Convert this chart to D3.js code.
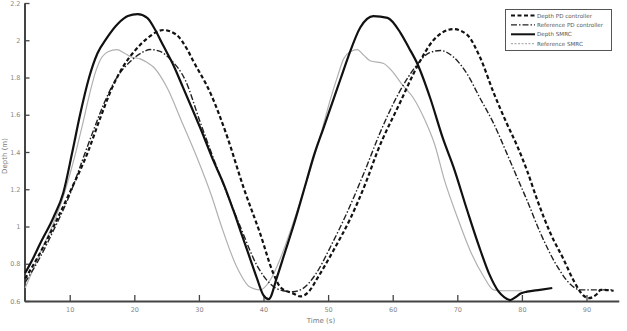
<!DOCTYPE html>
<html>
<head>
<meta charset="utf-8">
<script src="https://cdn.jsdelivr.net/npm/d3@7"></script>
<style>
  body { margin: 0; background: #fff; }
  svg { display: block; }
  text { font-family: "DejaVu Sans", Verdana, sans-serif; }
</style>
</head>
<body>
<div id="chart"></div>
<script>
// series: time (s) and depth (m)
var depthPDTime = [3.1, 5.45, 7.5, 10.1, 12.7, 14.7, 16.5, 18.3, 20, 22, 24.5, 26.5, 28.2, 29.1, 31.8, 34.4, 36.9, 39.5, 41.5, 42.6, 44.6, 45.7, 47, 48.3, 50.8, 53.4, 56, 57.6, 61.2, 63.8, 66.3, 69.4, 71.5, 73.5, 75.6, 77.7, 79.3, 80.8, 82.4, 84.4, 86.5, 88, 89.5, 90.3, 91.7, 92.2, 94.2];
var depthPDValue = [0.72, 0.86, 1.0, 1.19, 1.39, 1.58, 1.74, 1.86, 1.94, 2.01, 2.055, 2.03, 1.95, 1.89, 1.715, 1.48, 1.21, 0.96, 0.75, 0.675, 0.64, 0.625, 0.65, 0.72, 0.87, 1.04, 1.25, 1.4, 1.67, 1.86, 2.0, 2.06, 2.03, 1.91, 1.72, 1.55, 1.43, 1.30, 1.14, 0.965, 0.82, 0.71, 0.63, 0.615, 0.64, 0.66, 0.655];

var refPDTime = [3.1, 5.5, 7.5, 10, 11.8, 13.5, 15.3, 17.3, 19.5, 21, 22.5, 24, 25.5, 27.9, 30.2, 33.3, 36.4, 39, 41.1, 43, 44.5, 46, 48, 50.5, 53, 55.7, 58, 61, 63.8, 65.5, 67.4, 69.4, 71.5, 73.5, 75.6, 77.7, 79.3, 80.8, 82.8, 85.4, 87.5, 89, 94.2];
var refPDValue = [0.70, 0.84, 0.98, 1.17, 1.34, 1.5, 1.66, 1.80, 1.89, 1.93, 1.95, 1.94, 1.90, 1.785, 1.56, 1.27, 1.0, 0.79, 0.69, 0.655, 0.65, 0.665, 0.74, 0.9, 1.08, 1.3, 1.5, 1.72, 1.87, 1.93, 1.945, 1.91, 1.82, 1.69, 1.555, 1.39, 1.26, 1.14, 0.97, 0.79, 0.69, 0.66, 0.66];

var depthSMRCTime = [3.1, 4.2, 5.45, 7.5, 9.0, 10.4, 11.6, 13.0, 14.3, 15.7, 17.5, 19.0, 20.5, 22.0, 23.0, 24.5, 26.0, 27.5, 29.1, 30.2, 32.2, 33.8, 35.3, 36.7, 38.0, 39.0, 40.0, 40.8, 42.1, 43.3, 44.6, 46.7, 47.7, 49.3, 50.8, 52.0, 53.1, 55.0, 57.0, 59.2, 61.2, 62.5, 63.8, 65.8, 67.8, 69.4, 71.5, 73.3, 75.0, 76.4, 77.3, 78.2, 79.0, 79.8, 80.8, 82.8, 84.7];
var depthSMRCValue = [0.75, 0.82, 0.91, 1.05, 1.18, 1.40, 1.60, 1.80, 1.93, 2.01, 2.09, 2.13, 2.14, 2.12, 2.07, 1.97, 1.87, 1.75, 1.62, 1.53, 1.356, 1.23, 1.09, 0.95, 0.82, 0.72, 0.63, 0.61, 0.73, 0.86, 1.0, 1.25, 1.37, 1.53, 1.68, 1.80, 1.91, 2.07, 2.13, 2.12, 2.04, 1.96, 1.875, 1.69, 1.47, 1.32, 1.09, 0.90, 0.74, 0.65, 0.62, 0.605, 0.62, 0.64, 0.65, 0.66, 0.67];

var refSMRCTime = [3.1, 5.45, 7.5, 9.0, 10.5, 12.0, 13.0, 14.0, 15.0, 16.0, 17.3, 18.5, 19.5, 20.9, 22.0, 23.0, 25.0, 27.5, 29.7, 32.0, 33.5, 35.9, 37.9, 39.5, 41.0, 42.5, 44.2, 46.5, 48.5, 50.5, 51.5, 52.4, 53.5, 54.5, 55.5, 56.5, 58.6, 60.0, 61.5, 63.2, 65.0, 66.5, 68.0, 70.0, 72.0, 74.1, 75.6, 77.0, 80.0];
var refSMRCValue = [0.67, 0.86, 1.02, 1.16, 1.34, 1.55, 1.70, 1.83, 1.91, 1.94, 1.95, 1.93, 1.91, 1.90, 1.88, 1.855, 1.75, 1.55, 1.37, 1.16, 1.0, 0.78, 0.675, 0.66, 0.71, 0.82, 0.98, 1.22, 1.45, 1.70, 1.81, 1.90, 1.94, 1.95, 1.92, 1.89, 1.875, 1.83, 1.76, 1.69, 1.57, 1.44, 1.25, 1.05, 0.87, 0.73, 0.66, 0.655, 0.655];

var legendNames = ["Depth PD controller", "Reference PD controller", "Depth SMRC", "Reference SMRC"];
var xTicks = [10, 20, 30, 40, 50, 60, 70, 80, 90];
var yTicks = [0.6, 0.8, 1, 1.2, 1.4, 1.6, 1.8, 2, 2.2];

var w = 627;
var h = 331;

var svg = d3.select("#chart")
            .append("svg")
            .attr("width", w)
            .attr("height", h);

var xScale = d3.scaleLinear()
                .domain([3, 95])
                .range([24.5, 618.8]);
var yScale = d3.scaleLinear()
                .domain([0.6, 2.2])
                .range([301, 3]);

// axes, ticks pointing inside
var xAxis = svg.append("g")
    .attr("transform", "translate(0,301)")
    .call(d3.axisBottom(xScale).tickValues(xTicks).tickSizeInner(-6).tickSizeOuter(0).tickPadding(6));
var yAxis = svg.append("g")
    .attr("transform", "translate(24.5,0)")
    .call(d3.axisLeft(yScale).tickValues(yTicks).tickSizeInner(-5).tickSizeOuter(0).tickPadding(4)
        .tickFormat(d3.format("~g")));

svg.selectAll(".domain").attr("stroke", "#444").attr("stroke-width", 2);
svg.selectAll(".tick line").attr("stroke", "#444").attr("stroke-width", 1.3);
svg.selectAll(".tick text")
    .attr("fill", "#888")
    .attr("font-size", "6.5px")
    .style("font-family", "'DejaVu Sans', sans-serif");

svg.append("text")
    .attr("x", 321)
    .attr("y", 323)
    .attr("text-anchor", "middle")
    .attr("font-size", "7px")
    .attr("fill", "#777")
    .text("Time (s)");

svg.append("text")
    .attr("transform", "translate(7,156) rotate(-90)")
    .attr("text-anchor", "middle")
    .attr("font-size", "7px")
    .attr("fill", "#777")
    .text("Depth (m)");

var line = d3.line()
    .x(function(d){ return xScale(d[0]); })
    .y(function(d){ return yScale(d[1]); })
    .curve(d3.curveMonotoneX);

var series = [
    {time: depthPDTime, value: depthPDValue, color: "#111", width: 2.2, dash: "4,2.5"},
    {time: refPDTime, value: refPDValue, color: "#222", width: 1.4, dash: "6,2,1.5,2"},
    {time: depthSMRCTime, value: depthSMRCValue, color: "#111", width: 2.2, dash: null},
    {time: refSMRCTime, value: refSMRCValue, color: "#b0b0b0", width: 1.2, dash: null}
];

// draw reference SMRC first so the black curves sit over it
[3, 1, 0, 2].forEach(function(i){
    var s = series[i];
    svg.append("path")
        .datum(d3.zip(s.time, s.value))
        .attr("fill", "none")
        .attr("stroke", s.color)
        .attr("stroke-width", s.width)
        .attr("stroke-dasharray", s.dash)
        .attr("stroke-linejoin", "round")
        .attr("d", line);
});

// legend
var legend = svg.append("g");
legend.append("rect")
    .attr("x", 505.5)
    .attr("y", 9.5)
    .attr("width", 106)
    .attr("height", 41)
    .attr("fill", "#fff")
    .attr("stroke", "#555")
    .attr("stroke-width", 1);

var legendDash = [series[0].dash, series[1].dash, null, "2,1.5"];
legendNames.forEach(function(name, i){
    var y = 15.5 + i * 9.4;
    legend.append("line")
        .attr("x1", 511)
        .attr("x2", 535)
        .attr("y1", y)
        .attr("y2", y)
        .attr("stroke", series[i].color)
        .attr("stroke-width", i == 3 ? 1.2 : (i == 1 ? 1.4 : 2))
        .attr("stroke-dasharray", legendDash[i]);
    legend.append("text")
        .attr("x", 537)
        .attr("y", y + 2)
        .attr("font-size", "5.6px")
        .attr("fill", "#555")
        .text(name);
});
</script>
</body>
</html>
